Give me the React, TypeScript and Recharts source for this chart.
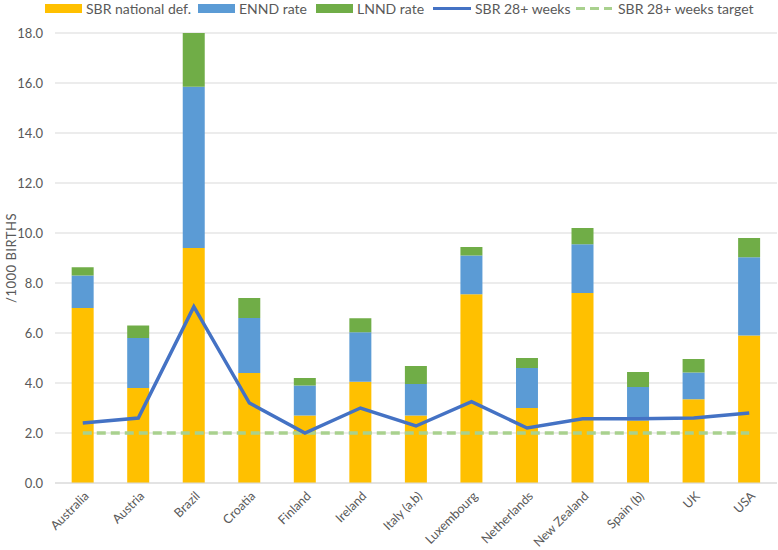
import {
  ComposedChart,
  Bar,
  Line,
  XAxis,
  YAxis,
  CartesianGrid,
} from "recharts";

const countries = [
  "Australia",
  "Austria",
  "Brazil",
  "Croatia",
  "Finland",
  "Ireland",
  "Italy (a,b)",
  "Luxembourg",
  "Netherlands",
  "New Zealand",
  "Spain (b)",
  "UK",
  "USA",
];
const sbrNational = [7.0, 3.8, 9.4, 4.4, 2.7, 4.05, 2.7, 7.55, 3.0, 7.6, 2.5, 3.35, 5.9];
const enndRate = [1.3, 2.0, 6.45, 2.2, 1.2, 1.98, 1.26, 1.55, 1.6, 1.95, 1.34, 1.07, 3.13];
const lnndRate = [0.33, 0.5, 2.15, 0.8, 0.3, 0.56, 0.72, 0.34, 0.4, 0.65, 0.6, 0.54, 0.77];
const sbr28 = [2.4, 2.6, 7.05, 3.2, 2.0, 3.0, 2.28, 3.25, 2.2, 2.57, 2.57, 2.6, 2.8];
const sbr28Target = [2, 2, 2, 2, 2, 2, 2, 2, 2, 2, 2, 2, 2];
const yTicks = [0, 2, 4, 6, 8, 10, 12, 14, 16, 18];

const data = countries.map((c, i) => ({
  country: c,
  sbr: sbrNational[i],
  ennd: enndRate[i],
  lnnd: lnndRate[i],
  sbr28: sbr28[i],
  target: sbr28Target[i],
}));

const FONT = "Lato, 'Noto Sans', sans-serif";
const TXT = "#595959";

const CountryTick = (props: any) => {
  const { x, y, payload } = props;
  return (
    <g transform={`translate(${x + 4},${y + 3})`}>
      <text
        transform="rotate(-45)"
        textAnchor="end"
        fill={TXT}
        fontSize={12.5}
        fontFamily={FONT}
        dy={4}
      >
        {payload.value}
      </text>
    </g>
  );
};

const legendItems = [
  { label: "SBR national def.", color: "#FFC000", kind: "box", left: 45 },
  { label: "ENND rate", color: "#5B9BD5", kind: "box", left: 198 },
  { label: "LNND rate", color: "#70AD47", kind: "box", left: 316 },
  { label: "SBR 28+ weeks", color: "#4472C4", kind: "line", left: 433 },
  { label: "SBR 28+ weeks target", color: "#A9D18E", kind: "dash", left: 576 },
];

export default function App() {
  return (
    <div
      style={{
        position: "absolute",
        left: 0,
        top: 0,
        width: 778,
        height: 550,
        background: "#fff",
        fontFamily: FONT,
      }}
    >
      {legendItems.map((it) => (
        <div
          key={it.label}
          style={{
            position: "absolute",
            left: it.left,
            top: 0,
            height: 17,
            display: "flex",
            alignItems: "center",
            fontSize: 14,
            color: TXT,
            whiteSpace: "nowrap",
          }}
        >
          {it.kind === "box" && (
            <span style={{ width: 37, height: 9, background: it.color, marginRight: 4 }} />
          )}
          {it.kind === "line" && (
            <span style={{ width: 38, height: 3, background: it.color, marginRight: 4 }} />
          )}
          {it.kind === "dash" && (
            <span
              style={{
                width: 36,
                height: 3,
                marginRight: 6,
                background: `repeating-linear-gradient(90deg, ${it.color} 0 9px, transparent 9px 14px)`,
              }}
            />
          )}
          {it.label}
        </div>
      ))}
      <div
        style={{
          position: "absolute",
          left: 11,
          top: 258,
          transform: "translate(-50%, -50%) rotate(-90deg)",
          fontSize: 13,
          color: TXT,
          whiteSpace: "nowrap",
          letterSpacing: 0.5,
        }}
      >
        /1000 BIRTHS
      </div>
      <ComposedChart
        width={778}
        height={550}
        data={data}
        margin={{ top: 33, right: 1, left: 0, bottom: 0 }}
        barCategoryGap="30%"
      >
        <CartesianGrid vertical={false} stroke="#D9D9D9" strokeWidth={1.2} />
        <XAxis
          dataKey="country"
          interval={0}
          height={67}
          tickLine={false}
          axisLine={{ stroke: "#D9D9D9", strokeWidth: 1.2 }}
          tick={<CountryTick />}
        />
        <YAxis
          width={55}
          domain={[0, 18]}
          ticks={yTicks}
          tickFormatter={(v: number) => v.toFixed(1)}
          axisLine={false}
          tickLine={false}
          tick={{ fill: TXT, fontSize: 13, fontFamily: FONT }}
          tickMargin={6}
        />
        <Bar dataKey="sbr" stackId="a" fill="#FFC000" isAnimationActive={false} />
        <Bar dataKey="ennd" stackId="a" fill="#5B9BD5" isAnimationActive={false} />
        <Bar dataKey="lnnd" stackId="a" fill="#70AD47" isAnimationActive={false} />
        <Line
          dataKey="target"
          type="linear"
          stroke="#A9D18E"
          strokeWidth={3.5}
          strokeDasharray="9 5"
          dot={false}
          isAnimationActive={false}
        />
        <Line
          dataKey="sbr28"
          type="linear"
          stroke="#4472C4"
          strokeWidth={3.5}
          dot={false}
          isAnimationActive={false}
        />
      </ComposedChart>
    </div>
  );
}
